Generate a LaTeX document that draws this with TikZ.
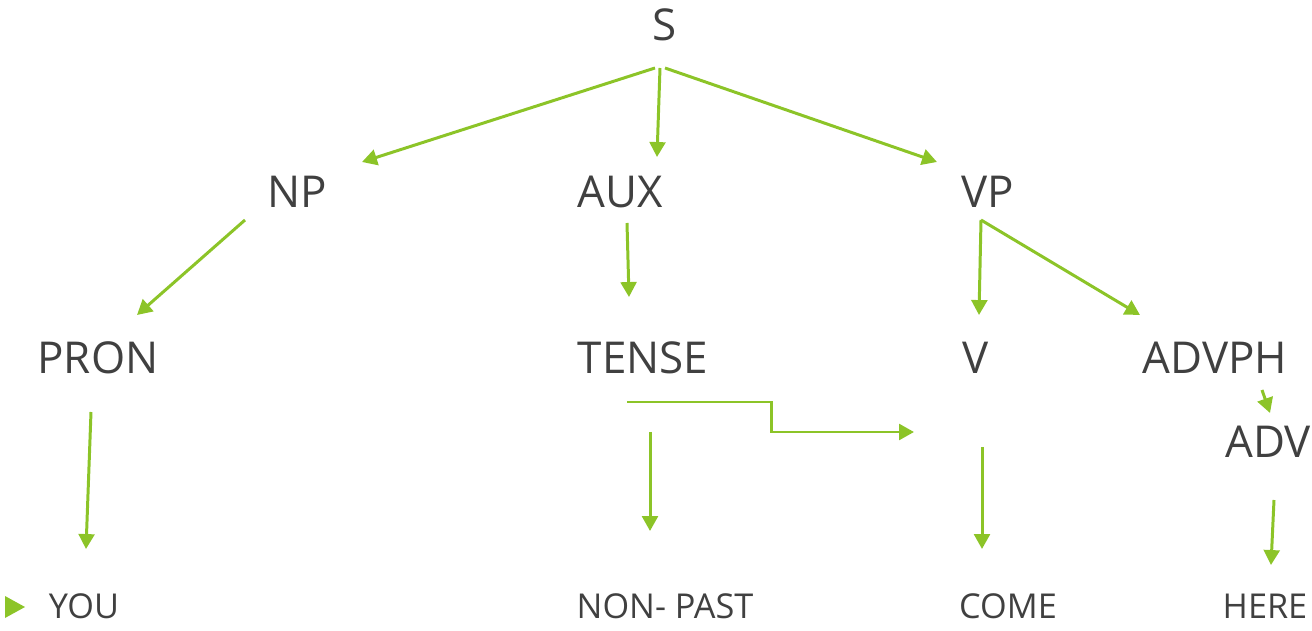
\documentclass[tikz,border=0pt]{standalone}
\usepackage{fontspec}
\setmainfont{Open Sans}
\usepackage{tikz}
\usetikzlibrary{arrows.meta,calc,positioning}
\definecolor{leaf}{RGB}{140,196,40}
\definecolor{ink}{RGB}{64,64,64}

\begin{document}
\begin{tikzpicture}[x=0.02cm,y=-0.02cm]
	\tikzstyle{every node} = [text = ink, inner sep = 0pt]
	\tikzstyle{cat} = [font = \fontsize{25}{25}\selectfont]
	\tikzstyle{word} = [font = \fontsize{19.5}{20}\selectfont]
	\tikzstyle{arr} = [draw = leaf, line width = 1.7pt, -{Triangle[length=8.5pt,width=9pt]}]

\useasboundingbox (0,0) rectangle (1312,631);

\node[cat] (s) at (665,25) {S};
\node[cat] (np) at (297,192) {NP};
\node[cat] (aux) at (620,192) {AUX};
\node[cat] (vp) at (988,192) {VP};
\node[cat] (pron) at (98,358) {PRON};
\node[cat] (tense) at (643,358) {TENSE};
\node[cat] (v) at (976,358) {V};
\node[cat] (advph) at (1215,358) {ADVPH};
\node[cat] (adv) at (1268,442) {ADV};
\node[word] (you) at (84,606) {YOU};
\node[word] (nonpast) at (665,606) {NON- PAST};
\node[word] (come) at (1008,606) {COME};
\node[word] (here) at (1265,606) {HERE};

	% bullet
	\fill[leaf] (5,596) -- (25,607) -- (5,618) -- cycle;

	\draw[arr] ($(s)+(-10,43)$) -- ($(np)+(65,-30)$);
	\draw[arr] ($(s)+(-5,43)$) -- ($(aux)+(37,-35)$);
	\draw[arr] ($(s)+(0,43)$) -- ($(vp)+(-51,-30)$);
	\draw[arr] ($(np)+(-52,28)$) -- ($(pron)+(39,-43)$);
	\draw[arr] ($(aux)+(7,31)$) -- ($(tense)+(-14,-61)$);
	\draw[arr] ($(vp)+(-7,28)$) -- ($(v)+(3,-43)$);
	\draw[arr] ($(vp)+(-7,28)$) -- ($(advph)+(-75,-43)$);
	\draw[arr] ($(pron)+(-7,54)$) -- ($(you)+(2,-57)$);
	\draw[arr] ($(tense)+(-16,44)$) -| ($(tense)+(128,74)$) -- ($(v)+(-62,74)$);
	\draw[arr] ($(tense)+(7,74)$) -- ($(nonpast)+(-15,-75)$);
	\draw[arr] ($(v)+(6,89)$) -- ($(come)+(-26,-57)$);
	\draw[arr] ($(advph)+(47,32)$) -- ($(adv)+(2,-29)$);
	\draw[arr] ($(adv)+(6,58)$) -- ($(here)+(6,-41)$);
\end{tikzpicture}
\end{document}
